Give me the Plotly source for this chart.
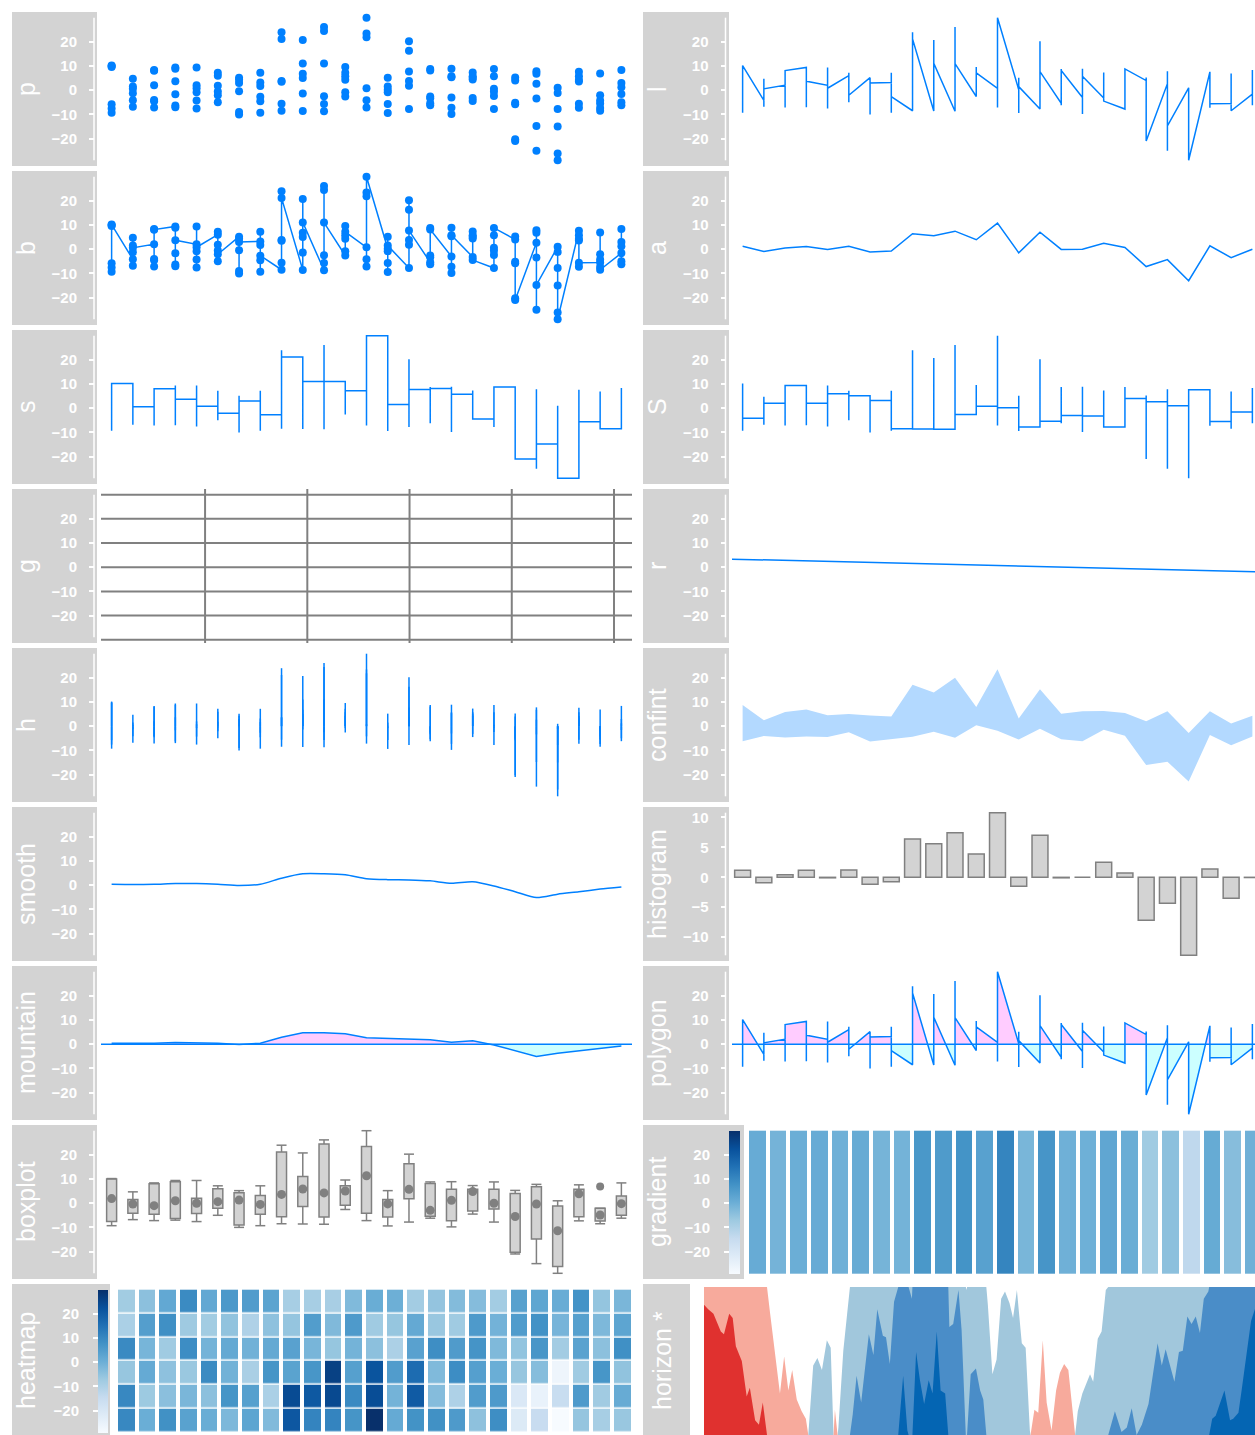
import numpy as np
import plotly.graph_objects as go

W, H = 1255, 1435          # reference canvas (window) size
OFF = 0                    # body margin removed by post_script below
FW, FH = W - OFF, H - OFF
FONT = "Liberation Sans, Arial, sans-serif"
TICKFONT = "Liberation Sans, Arial, sans-serif"

# ---------------- data ----------------
group_x = list(range(1, 26))
g01 = [-7.6, -9.3, 9.6, -5.8, 10.0, 10.2]
g02 = [-4.2, 4.7, -1.3, 1.5, -6.8, 0.6]
g03 = [2.1, 8.4, -7.2, -4.6, -4.1, 8.1]
g04 = [9.4, -7.0, 8.9, -6.3, -1.7, 3.7]
g05 = [2.0, -7.6, -0.8, 9.4, -4.3, 0.8]
g06 = [6.0, -5.0, 1.8, -0.5, 7.2, -2.1]
g07 = [5.2, -10.0, -0.4, -9.0, 4.3, 3.0]
g08 = [3.2, -4.6, 1.7, 7.2, -9.3, -2.7]
g09 = [-8.5, -5.6, 3.8, 3.5, 24.0, 21.2]
g10 = [-8.6, 5.0, -1.4, 6.8, 20.8, 11.1]
g11 = [-8.7, -2.5, -5.7, 26.2, 24.5, 11.0]
g12 = [-2.6, 5.8, -0.8, 4.3, 9.6, 7.2]
g13 = [0.8, -7.2, -4.2, 21.9, 23.5, 30.0]
g14 = [0.2, -5.7, -9.4, 5.2, -0.8, 1.5]
g15 = [-7.8, 1.8, 3.8, 16.3, 20.3, 7.7]
g16 = [-5.4, -6.2, 8.8, -2.6, -3.3, 8.2]
g17 = [-3.0, -7.3, 5.4, 8.9, -9.8, 5.8]
g18 = [-3.2, 5.8, 7.3, 4.4, 5.2, -4.5]
g19 = [-7.8, -0.6, -2.4, 0.6, 5.8, 8.8]
g20 = [4.0, 5.3, -5.2, -5.8, -20.3, -21.0]
g21 = [2.7, 7.8, 6.8, -3.4, -25.0, -14.8]
g22 = [1.0, -1.2, -7.8, -26.2, -15.0, -29.0]
g23 = [7.6, 4.2, 3.6, -7.3, 5.8, -5.6]
g24 = [-5.5, -2.1, -4.3, 6.9, -7.4, -8.5]
g25 = [-1.6, 3.0, 8.4, -5.0, 1.2, -6.2]

smooth_y = [0.4, 0.3, 0.4, 0.7, 0.7, 0.4, -0.1, 0.4, 2.9, 4.7, 4.7, 4.3, 2.7,
            2.3, 2.2, 1.8, 0.8, 1.4, -0.3, -2.7, -5.1, -3.7, -2.7, -1.6, -0.7]
conf_hi = [8.8, 2.5, 5.9, 6.9, 4.5, 5.0, 4.4, 4.0, 17.2, 13.9, 20.0, 7.9, 23.6,
           3.2, 15.3, 5.2, 6.2, 6.3, 5.5, 2.1, 6.2, -2.8, 6.2, 1.1, 4.3]
conf_lo = [-6.2, -4.0, -4.7, -4.3, -4.5, -2.5, -6.3, -5.4, -4.4, -2.3, -4.8, 0.4, -1.9,
           -5.5, -1.1, -5.4, -6.2, -1.5, -3.9, -16.1, -14.7, -22.9, -3.6, -7.9, -4.3]

horizon_t = [0, 1.2, 2.7, 3.6, 4.8, 5.7, 7.2, 8.2, 9.1, 10.1, 10.8, 12.2, 13.1, 14.6, 15.7,
             16.8, 17.9, 18.9, 20.0, 20.9, 21.7, 22.9, 24.1, 25.2, 26.5, 27.9, 29.1, 29.8,
             31.2, 32.4, 33.7, 35.1, 36.2, 36.9, 37.4, 38.4, 39.8, 40.9, 41.7, 42.5, 43.6,
             44.9, 47.1, 48.4, 49.5, 51.1, 52.0, 53.1, 54.3, 55.5, 56.9, 58.1, 59.4, 60.6,
             61.7, 62.9, 64.2, 65.3, 66.5, 67.6, 68.9, 69.8, 70.1, 71.2, 72.7, 73.6, 74.8,
             75.1, 76.2, 77.7, 78.9, 79.8, 81.1, 82.4, 83.6, 84.9, 86.0, 87.3, 88.3, 89.4,
             90.8, 91.9, 93.1, 94.4, 95.5, 96.8, 97.9, 99.3, 100.6, 101.7, 102.9, 104.1,
             105.8, 106.8, 108.1, 110.3, 111.2, 112.5, 113.6, 114.8, 115.5, 117.4, 119.3,
             120.8, 122.2, 123.6, 125.1, 127.0, 129.6, 130.8, 131.9, 134.4, 135.7, 136.8,
             138.1, 139.3, 140.5, 141.7, 142.8, 144.1, 145.2, 146.2, 148.7, 150.3, 151.2,
             152.7, 153.6, 155.1, 156.3, 157.4, 159.4]
horizon_v = [-18.8, -18.5, -18.2, -17.7, -17.0, -16.8, -18.2, -17.9, -16.0, -15.4, -15.0,
             -12.6, -13.2, -11.0, -10.7, -12.2, -10.2, -8.2, -6.2, -4.4, -2.8, -5.3, -3.0,
             -4.4, -2.4, -1.6, -1.1, 0.0, 4.7, 5.2, 4.4, 6.4, 5.9, 0.5, -1.7, 0.5, 5.7,
             8.2, 10.0, 11.4, 14.0, 12.2, 16.8, 15.4, 18.5, 16.7, 16.6, 14.8, 19.0, 20.0,
             24.0, 20.3, 19.2, 25.6, 23.7, 22.1, 23.7, 22.8, 27.0, 23.0, 22.8, 20.0, 17.3,
             17.5, 19.8, 17.1, 10.0, 9.8, 14.1, 14.5, 13.0, 12.4, 8.8, 4.1, 5.1, 9.2, 9.7,
             8.9, 7.9, 9.8, 6.2, 5.9, 0.3, -1.7, -1.5, -6.4, -2.2, -0.3, -3.0, -4.2, -4.8,
             -4.4, -0.5, 1.6, 2.8, 4.1, 3.6, 6.5, 7.0, 9.8, 10.0, 11.6, 10.2, 10.5, 11.8,
             10.0, 10.7, 12.1, 16.2, 14.7, 15.8, 13.6, 15.6, 15.7, 18.0, 17.5, 18.0, 16.9,
             19.2, 19.7, 21.1, 21.3, 23.0, 21.0, 21.1, 21.5, 23.0, 25.5, 27.7, 28.5, 29.0]
horizon_band = 10

grid_x = [5, 10, 15, 20, 25]
grid_y = [-30, -20, -10, 0, 10, 20, 30]
axis_ticks = [-20, -10, 0, 10, 20]
hist_ticks = [-10, -5, 0, 5, 10]

# ---------------- derived ----------------
groups = [g01, g02, g03, g04, g05, g06, g07, g08, g09, g10, g11, g12, g13,
          g14, g15, g16, g17, g18, g19, g20, g21, g22, g23, g24, g25]
xs = np.concatenate([[gx] * len(g) for gx, g in zip(group_x, groups)]).astype(float)
ys = np.concatenate(groups).astype(float)
gx = np.array(group_x, float)
means = np.array([np.mean(g) for g in groups])
ymin, ymax = ys.min(), ys.max()
pad = 0.04 * (ymax - ymin)
YR = [ymin - pad, ymax + pad]
mpad = 0.04 * (means.max() - means.min())
HR = [means.min() - mpad, means.max() + mpad]

BLUE = "#0080ff"
STRIP = "#d3d3d3"
GRAY = "#808080"
PINK = "#ffccff"
CYAN = "#ccffff"
BLUES = ["#F7FBFF", "#DEEBF7", "#C6DBEF", "#9ECAE1", "#6BAED6", "#4292C6",
         "#2171B5", "#08519C", "#08306B"]
BLUES_SCALE = [[i / 8, c] for i, c in enumerate(BLUES)]

ROW_TOP = [12 + 159 * r for r in range(9)]
ROW_H = 154
PXU = (632 - 101) / 25.0  # px per x unit

layout = dict(width=FW, height=FH, margin=dict(l=0, r=0, t=0, b=0), showlegend=False,
              paper_bgcolor="white", plot_bgcolor="rgba(0,0,0,0)")
shapes, annotations, traces = [], [], []


def names(k):
    s = "" if k == 1 else str(k)
    return "x" + s, "y" + s, "xaxis" + s, "yaxis" + s


def xf(px):
    return min(max((px - OFF) / FW, 0.0), 1.0)


def yf(py):
    return min(max(1 - (py - OFF) / FH, 0.0), 1.0)


def ypix(row, v, yr):
    return ROW_TOP[row] + (yr[1] - v) / (yr[1] - yr[0]) * ROW_H


def add_panel(k, label, row, strip, plot, xr, yr, axis_px=None, ticks=None,
              line_rng=None, label_px=26, plot_top=None, standoff=9):
    top = ROW_TOP[row]
    bot = top + ROW_H
    ptop = top if plot_top is None else plot_top
    xa, ya, xk, yk = names(k)
    yr = list(yr)
    if bot > H:
        if plot_top is None:
            yr[0] = yr[1] - (H - top) / ROW_H * (yr[1] - yr[0])
        bot = H
    layout[xk] = dict(domain=[xf(plot[0]), xf(plot[1])], range=xr,
                      anchor=ya, visible=False)
    ycfg = dict(domain=[yf(bot), yf(ptop)], range=yr, showgrid=False,
                zeroline=False, showline=False)
    if ticks is not None:
        ycfg.update(anchor="free", position=xf(axis_px), side="left", tickvals=ticks,
                    ticks="outside", ticklen=5, tickwidth=1.5, tickcolor="white",
                    ticklabelstandoff=standoff,
                    tickfont=dict(color="white", size=15, family=TICKFONT, weight="bold"))
    else:
        ycfg.update(visible=False)
    layout[yk] = ycfg
    shapes.append(dict(type="rect", xref="paper", yref="paper", x0=xf(strip[0]),
                       x1=xf(strip[1]), y0=yf(min(top + ROW_H, H)), y1=yf(top),
                       fillcolor=STRIP, line=dict(width=0), layer="below"))
    if line_rng is not None:
        shapes.append(dict(type="line", xref="paper", yref=ya, x0=xf(axis_px),
                           x1=xf(axis_px), y0=line_rng[0], y1=line_rng[1],
                           line=dict(color="white", width=1.5)))
    annotations.append(dict(text=label, xref="paper", yref="paper", x=xf(label_px),
                            y=yf(top + ROW_H / 2), textangle=-90, showarrow=False,
                            xanchor="center", yanchor="middle",
                            font=dict(color="white", size=25, family=FONT)))
    return xa, ya


def insert_crossings(x, y, levels):
    ox, oy = [x[0]], [y[0]]
    for i in range(1, len(x)):
        x0, y0, x1, y1 = x[i - 1], y[i - 1], x[i], y[i]
        cs = []
        for L in levels:
            if (y0 - L) * (y1 - L) < 0:
                f = (L - y0) / (y1 - y0)
                cs.append((f, x0 + f * (x1 - x0), L))
        for f, cx, cy in sorted(cs):
            ox.append(cx)
            oy.append(cy)
        ox.append(x1)
        oy.append(y1)
    return np.array(ox), np.array(oy)


def fivenum(v):
    v = np.sort(np.asarray(v, float))
    n = len(v)
    n4 = np.floor((n + 3) / 2) / 2
    d = np.array([1, n4, (n + 1) / 2, n + 1 - n4, n]) - 1
    return 0.5 * (v[np.floor(d).astype(int)] + v[np.ceil(d).astype(int)])


LXR = [0.5, 25.5]
RXR = [0.5, 0.5 + (W - 732) / PXU]
LST, LPL = [12, 97], [101, 632]
RST, RPL = [643, 729], [732, W]
LINE = [ymin, ymax]
RLAB = 657

# ---- left column ----
xa, ya = add_panel(1, "p", 0, LST, LPL, LXR, YR, 94, axis_ticks, LINE)
traces.append(go.Scatter(x=xs, y=ys, mode="markers", marker=dict(color=BLUE, size=8),
                         xaxis=xa, yaxis=ya))

xa, ya = add_panel(2, "b", 1, LST, LPL, LXR, YR, 94, axis_ticks, LINE)
traces.append(go.Scatter(x=xs, y=ys, mode="lines+markers", marker=dict(color=BLUE, size=8),
                         line=dict(color=BLUE, width=1.5), xaxis=xa, yaxis=ya))

xa, ya = add_panel(3, "s", 2, LST, LPL, LXR, YR, 94, axis_ticks, LINE)
traces.append(go.Scatter(x=xs, y=ys, mode="lines", line=dict(color=BLUE, width=1.5, shape="hv"),
                         xaxis=xa, yaxis=ya))

xa, ya = add_panel(4, "g", 3, LST, LPL, [-0.09, 25.88], YR, 94, axis_ticks, LINE)
traces.append(go.Scatter(x=[None], y=[None], xaxis=xa, yaxis=ya))
for gv in grid_y:
    shapes.append(dict(type="line", xref=xa + " domain", yref=ya, x0=0, x1=1, y0=gv, y1=gv,
                       line=dict(color=GRAY, width=2)))
for gv in grid_x:
    shapes.append(dict(type="line", xref=xa, yref=ya + " domain", x0=gv, x1=gv, y0=0, y1=1,
                       line=dict(color=GRAY, width=2)))

xa, ya = add_panel(5, "h", 4, LST, LPL, LXR, YR, 94, axis_ticks, LINE)
hx, hy = [], []
for a, b in zip(xs, ys):
    hx += [a, a, None]
    hy += [0, b, None]
traces.append(go.Scatter(x=hx, y=hy, mode="lines", line=dict(color=BLUE, width=1.5),
                         xaxis=xa, yaxis=ya))

xa, ya = add_panel(6, "smooth", 5, LST, LPL, LXR, YR, 94, axis_ticks, LINE)
traces.append(go.Scatter(x=gx, y=smooth_y, mode="lines",
                         line=dict(color=BLUE, width=1.5, shape="spline", smoothing=0.7),
                         xaxis=xa, yaxis=ya))

xa, ya = add_panel(7, "mountain", 6, LST, LPL, LXR, YR, 94, axis_ticks, LINE)
mx_, my_ = insert_crossings(gx, np.array(smooth_y), [0])
traces.append(go.Scatter(x=mx_, y=np.maximum(my_, 0), mode="lines", fill="tozeroy",
                         fillcolor=PINK, line=dict(width=0), xaxis=xa, yaxis=ya))
traces.append(go.Scatter(x=mx_, y=np.minimum(my_, 0), mode="lines", fill="tozeroy",
                         fillcolor=CYAN, line=dict(width=0), xaxis=xa, yaxis=ya))
traces.append(go.Scatter(x=gx, y=smooth_y, mode="lines", line=dict(color=BLUE, width=1.5),
                         xaxis=xa, yaxis=ya))
shapes.append(dict(type="line", xref=xa + " domain", yref=ya, x0=0, x1=1, y0=0, y1=0,
                   line=dict(color=BLUE, width=1.5)))

xa, ya = add_panel(8, "boxplot", 7, LST, LPL, LXR, YR, 94, axis_ticks, LINE)
q1s, q3s, meds, wx, wy, ox, oy = [], [], [], [], [], [], []
hw = 0.235
for gxv, g in zip(group_x, groups):
    v = np.asarray(g, float)
    f = fivenum(v)
    iqr = f[3] - f[1]
    inside = v[(v >= f[1] - 1.5 * iqr) & (v <= f[3] + 1.5 * iqr)]
    lo, hi = inside.min(), inside.max()
    q1s.append(f[1]); q3s.append(f[3]); meds.append(f[2])
    wx += [gxv, gxv, None, gxv - hw, gxv + hw, None, gxv, gxv, None, gxv - hw, gxv + hw, None]
    wy += [f[3], hi, None, hi, hi, None, f[1], lo, None, lo, lo, None]
    for o in v[(v < f[1] - 1.5 * iqr) | (v > f[3] + 1.5 * iqr)]:
        ox.append(gxv); oy.append(o)
q1s, q3s = np.array(q1s), np.array(q3s)
traces.append(go.Scatter(x=wx, y=wy, mode="lines", line=dict(color=GRAY, width=1.5),
                         xaxis=xa, yaxis=ya))
traces.append(go.Bar(x=gx, y=q3s - q1s, base=q1s, width=0.47,
                     marker=dict(color=STRIP, line=dict(color=GRAY, width=1.5)),
                     xaxis=xa, yaxis=ya))
traces.append(go.Scatter(x=gx, y=meds, mode="markers", marker=dict(color=GRAY, size=9),
                         xaxis=xa, yaxis=ya))
traces.append(go.Scatter(x=ox, y=oy, mode="markers", marker=dict(color=GRAY, size=8),
                         xaxis=xa, yaxis=ya))

# heatmap
xa, ya = add_panel(9, "heatmap", 8, [12, 110], [116, 632.5], LXR, YR, 98, axis_ticks, None,
                   standoff=11)
nrow = max(len(g) for g in groups)
zmat = [[g[nrow - 1 - j] for g in groups] for j in range(nrow)]
y_edges = np.linspace(ymin, ymax, nrow + 1)
x_edges = np.arange(0.5, 26.0, 1.0)
cb_top = ypix(8, ymax, YR)
cb_bot = ypix(8, ymin, YR)
traces.append(go.Heatmap(z=zmat, x=x_edges, y=y_edges, colorscale=BLUES_SCALE,
                         zmin=ymin, zmax=ymax, xgap=4, ygap=1.5,
                         colorbar=dict(x=xf(98), xanchor="left", xpad=0, ypad=0,
                                       y=yf((cb_top + cb_bot) / 2), yanchor="middle",
                                       len=cb_bot - cb_top, lenmode="pixels",
                                       thickness=10, thicknessmode="pixels",
                                       outlinewidth=0, showticklabels=False, ticks=""),
                         xaxis=xa, yaxis=ya))

# ---- right column ----
xa, ya = add_panel(10, "l", 0, RST, RPL, RXR, YR, 725.5, axis_ticks, LINE, RLAB)
traces.append(go.Scatter(x=xs, y=ys, mode="lines", line=dict(color=BLUE, width=1.5),
                         xaxis=xa, yaxis=ya))

xa, ya = add_panel(11, "a", 1, RST, RPL, RXR, YR, 725.5, axis_ticks, LINE, RLAB)
traces.append(go.Scatter(x=gx, y=means, mode="lines", line=dict(color=BLUE, width=1.5),
                         xaxis=xa, yaxis=ya))

xa, ya = add_panel(12, "S", 2, RST, RPL, RXR, YR, 725.5, axis_ticks, LINE, RLAB)
traces.append(go.Scatter(x=xs, y=ys, mode="lines", line=dict(color=BLUE, width=1.5, shape="vh"),
                         xaxis=xa, yaxis=ya))

xa, ya = add_panel(13, "r", 3, RST, RPL, RXR, YR, 725.5, axis_ticks, LINE, RLAB)
slope, icpt = np.polyfit(xs, ys, 1)
rx = np.array([0.0, 26.0])
traces.append(go.Scatter(x=rx, y=icpt + slope * rx, mode="lines",
                         line=dict(color=BLUE, width=1.5), xaxis=xa, yaxis=ya))

xa, ya = add_panel(14, "confint", 4, RST, RPL, RXR, YR, 725.5, axis_ticks, LINE, RLAB)
traces.append(go.Scatter(x=gx, y=conf_hi, mode="lines", line=dict(width=0),
                         xaxis=xa, yaxis=ya))
traces.append(go.Scatter(x=gx, y=conf_lo, mode="lines", line=dict(width=0), fill="tonexty",
                         fillcolor="#b3d9ff", xaxis=xa, yaxis=ya))

xa, ya = add_panel(15, "histogram", 5, RST, RPL, RXR, HR, 725.5, hist_ticks,
                   [means.min(), means.max()], RLAB)
traces.append(go.Bar(x=gx, y=means, width=0.75,
                     marker=dict(color=STRIP, line=dict(color=GRAY, width=1.5)),
                     xaxis=xa, yaxis=ya))

xa, ya = add_panel(16, "polygon", 6, RST, RPL, RXR, YR, 725.5, axis_ticks, LINE, RLAB)
px_, py_ = insert_crossings(xs, ys, [0])
traces.append(go.Scatter(x=px_, y=np.maximum(py_, 0), mode="lines", fill="tozeroy",
                         fillcolor=PINK, line=dict(width=0), xaxis=xa, yaxis=ya))
traces.append(go.Scatter(x=px_, y=np.minimum(py_, 0), mode="lines", fill="tozeroy",
                         fillcolor=CYAN, line=dict(width=0), xaxis=xa, yaxis=ya))
traces.append(go.Scatter(x=xs, y=ys, mode="lines", line=dict(color=BLUE, width=1.5),
                         xaxis=xa, yaxis=ya))
shapes.append(dict(type="line", xref=xa + " domain", yref=ya, x0=0, x1=1, y0=0, y1=0,
                   line=dict(color=BLUE, width=1.5)))

xa, ya = add_panel(17, "gradient", 7, [643, 744], [747, W],
                   [0.5, 0.5 + (W - 747) / ((632.5 - 116) / 25.0)], YR, 729, axis_ticks, None,
                   RLAB, standoff=11)
gcb_top = ypix(7, ymax, YR)
gcb_bot = ypix(7, ymin, YR)
traces.append(go.Heatmap(z=[list(means)], x=x_edges, y=[ymin, ymax], colorscale=BLUES_SCALE,
                         zmin=ymin, zmax=ymax, xgap=4,
                         colorbar=dict(x=xf(729), xanchor="left", xpad=0, ypad=0,
                                       y=yf((gcb_top + gcb_bot) / 2), yanchor="middle",
                                       len=gcb_bot - gcb_top, lenmode="pixels",
                                       thickness=11, thicknessmode="pixels",
                                       outlinewidth=0, showticklabels=False, ticks=""),
                         xaxis=xa, yaxis=ya))

# horizon
xa, ya = add_panel(18, "horizon *", 8, [643, 690], [704, W],
                   [0, (W - 704) / 3.5], [0, horizon_band], None, None, None, 662, plot_top=1287)
band_levels = [horizon_band * k for k in range(-3, 4)]
ht, hv = insert_crossings(np.array(horizon_t, float), np.array(horizon_v, float), band_levels)
pos_cols = ["#a1c7dc", "#4a8dc8", "#0465b3"]
neg_cols = ["#f7aa9c", "#e0312f", "#a50f15"]
for sign, cols in ((1, pos_cols), (-1, neg_cols)):
    for kb, col in enumerate(cols):
        yl = np.clip(sign * hv - kb * horizon_band, 0, horizon_band)
        traces.append(go.Scatter(x=ht, y=yl, mode="lines", fill="tozeroy", fillcolor=col,
                                 line=dict(width=0, color=col), xaxis=xa, yaxis=ya))

layout["shapes"] = shapes
layout["annotations"] = annotations
fig = go.Figure(data=traces, layout=layout)
fig.update_traces(hoverinfo="skip")
fig.write_html(
    "out.html",
    config={"displayModeBar": False},
    post_script="document.body.style.margin='0';"
                "document.documentElement.style.overflow='hidden';"
                "document.body.style.overflow='hidden';",
)
